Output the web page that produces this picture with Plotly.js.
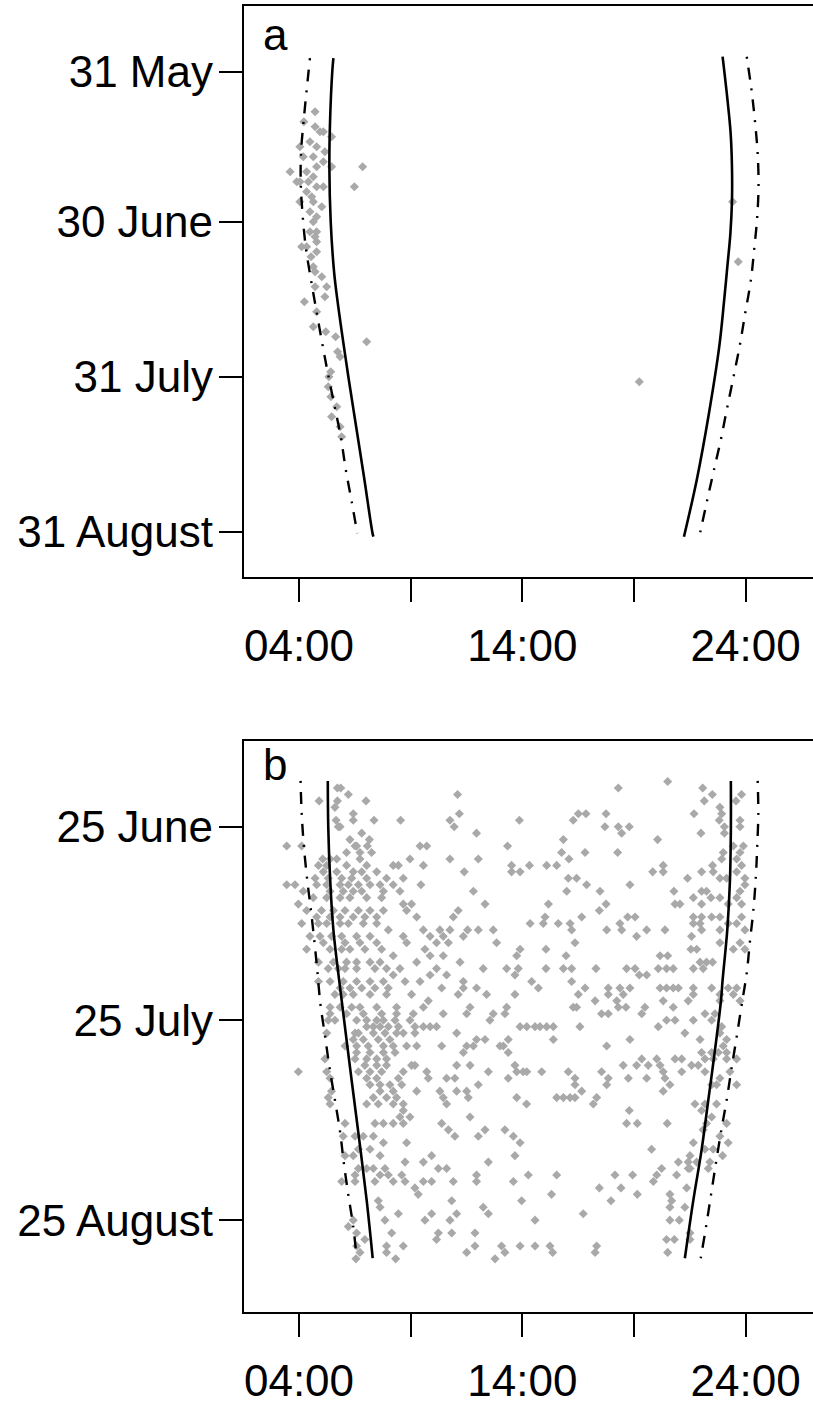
<!DOCTYPE html>
<html><head><meta charset="utf-8">
<script src="https://cdn.plot.ly/plotly-3.0.1.min.js"></script>
<style>html,body{margin:0;padding:0;overflow:hidden;background:#fff;width:813px;height:1407px}#plot{width:835px;height:1407px}</style>
</head><body><div id="plot"></div><script>
// ---------- axis labels ----------
const hourTickVals = [4, 9, 14, 19, 24];
const hourTickText = ['04:00', '', '14:00', '', '24:00'];
const aDateTickVals = [151, 181, 212, 243];
const aDateTickText = ['31 May', '30 June', '31 July', '31 August'];
const bDateTickVals = [176, 206, 237];
const bDateTickText = ['25 June', '25 July', '25 August'];

// ---------- panel a observations (day of year, hour) ----------
const aDay = [159,161,162,163,164,163,166,165,166,167,168,168,169,170,170,170,171,171,172,173,173,173,174,174,174,175,176,177,177,178,179,180,181,183,183,184,185,186,186,187,188,190,191,192,194,194,196,197,199,202,203,204,205,207,208,211,212,214,216,218,220,222,224,177,189,213];
const aHour = [4.72,4.22,4.72,4.94,5.46,5.09,4.04,4.49,4.79,5.16,4.19,4.64,5.09,5.46,4.79,6.85,3.60,4.34,4.64,3.90,4.04,4.42,4.79,5.09,6.48,4.34,4.57,4.04,4.64,5.02,4.49,4.79,4.64,4.49,4.79,4.72,4.79,4.12,4.34,4.79,4.54,4.64,4.72,5.02,4.72,5.24,5.16,4.24,4.79,4.64,5.20,5.64,7.03,5.73,5.84,5.42,5.34,5.31,5.43,5.69,5.46,5.84,5.91,23.42,23.67,19.24];

// ---------- panel a curves ----------
const aSolidLeftDay  = [148.3,151,161,170,181,191,196.7,212,222,232,243,244];
const aSolidLeftHour = [5.54,5.49,5.39,5.36,5.42,5.57,5.72,6.21,6.56,6.91,7.28,7.33];
const aDashLeftDay   = [148.3,160.7,167.3,173.3,180.1,186.3,192.7,199.1,205.3,211.7,218,224.3,230.7,237,243.3];
const aDashLeftHour  = [4.49,4.21,4.09,4.08,4.17,4.31,4.54,4.79,5.04,5.31,5.60,5.88,6.10,6.36,6.61];
const aSolidRightDay  = [148,156.7,163.3,170.1,176.7,183.3,190.1,196.7,206,219.3,232.7,244];
const aSolidRightHour = [22.97,23.19,23.33,23.39,23.39,23.32,23.18,23.04,22.82,22.36,21.81,21.24];
const aDashRightDay  = [148,154.5,160.9,167.3,173.7,180.1,186.3,192.9,199.1,205.5,211.8,218.1,224.4,230.7,236.9,243.1];
const aDashRightHour = [24.05,24.26,24.42,24.54,24.58,24.52,24.39,24.23,23.99,23.75,23.47,23.18,22.90,22.58,22.27,21.97];

// ---------- panel b observations: one day per row, hours observed that day ----------
const bRowDays = [169,170,171,172,173,174,175,176,177,178,179,180,181,182,183,184,185,186,187,188,189,190,191,192,193,194,195,196,197,198,199,200,201,202,203,204,205,206,207,208,209,210,211,212,213,214,215,216,217,218,219,220,221,222,223,224,225,226,227,228,229,230,231,232,233,234,235,236,237,238,239,240,241,242,243];
const bRowHours = [
 [20.51],
 [5.72,5.87,18.30,22.08],
 [6.21,11.10,22.51,23.82],
 [4.90,5.72,7.00,22.15,23.57],
 [5.61,22.85],
 [6.43,11.18,16.51,16.85,17.75,21.69,22.93],
 [5.66,6.43,7.36,8.55,10.76,13.87,16.28,22.82,23.75],
 [5.76,5.84,10.95,17.70,18.30,18.79,23.05,23.75],
 [6.81,11.95,18.45,22.00,23.05],
 [6.28,7.15,15.84,20.06],
 [3.45,4.12,6.51,6.58,7.06,9.42,9.72,13.34,23.45,23.90],
 [6.13,6.73,7.25,15.76,16.81,18.27,23.00,23.75],
 [5.06,5.39,5.69,6.73,8.97,10.76,12.03,16.09,22.93,23.60],
 [4.87,5.24,6.13,7.03,8.22,8.45,9.57,13.52,14.32,15.09,15.54,20.31,22.52,23.82],
 [5.09,5.69,6.43,6.81,7.48,11.40,13.52,13.90,19.84,20.31,22.03,22.55,23.60],
 [4.72,5.31,5.91,6.36,7.03,7.92,8.67,16.06,16.43,21.40,22.85,23.15,23.97],
 [3.45,3.82,4.79,5.24,5.84,6.21,6.66,7.18,7.63,8.22,9.46,16.88,18.82,23.97],
 [4.19,5.39,5.98,6.43,6.81,7.78,8.52,11.81,15.99,17.48,20.79,22.03,22.25,23.75],
 [4.64,5.24,5.84,6.28,7.03,7.70,21.66,22.45,22.85,23.60],
 [3.97,8.67,9.04,12.33,15.17,17.75,20.84,21.06,22.03,23.22,23.82],
 [4.34,5.01,5.54,6.06,6.66,7.18,7.78,8.82,11.13,17.45],
 [4.79,5.39,5.84,6.43,6.95,7.48,9.27,10.91,15.02,16.66,18.72,19.05,21.66,22.03,22.48,22.85,23.82],
 [4.12,4.87,5.24,5.84,6.21,6.88,7.48,14.35,14.94,15.61,16.14,18.37,21.66,21.96,23.22,23.60],
 [8.00,9.57,10.31,10.76,11.55,12.03,12.70,16.21,17.78,18.45,19.57,20.39,22.03,22.85,23.97],
 [4.49,4.94,5.46,5.91,6.58,7.18,8.67,9.87,10.46,11.36,19.12,21.58],
 [5.09,6.06,6.73,7.48,8.82,10.16,10.69,12.85,16.36,22.85,23.75],
 [4.34,5.39,5.91,6.28,6.95,7.70,9.64,13.90,15.06,21.55,21.81,23.45,23.97],
 [8.22,9.87,10.46,13.75,15.96,20.17,20.51],
 [4.87,5.54,6.13,6.58,7.18,7.63,9.27,11.21,21.96,22.25,22.52],
 [5.31,5.76,6.06,6.58,7.40,7.92,8.52,10.16,12.25,13.30,13.82,15.06,15.84,16.21,17.30,18.67,19.05,20.09,20.46,20.76,21.66,22.10],
 [8.22,9.87,10.61,13.67,19.24,19.57],
 [4.87,5.39,5.98,6.58,7.18,7.78,8.75,9.42,11.36,14.42,16.21],
 [5.84,6.28,6.81,7.40,8.00,10.39,11.36,11.95,14.72,16.81,17.85,18.37,18.82,20.17,20.46,20.76,20.99,21.66,22.48,23.22,23.60],
 [5.61,5.98,6.43,7.18,7.92,9.04,11.13,12.40,13.67,16.51,17.85,18.52,21.66,22.85,23.45],
 [9.79,17.26,18.23,20.31,21.43,22.85,23.75],
 [5.39,5.84,6.36,6.73,7.48,8.37,9.57,11.66,13.30,16.28,16.43,18.30,18.64,19.49,20.76],
 [5.39,6.13,6.88,7.70,8.37,9.12,10.46,11.51,12.70,13.22,17.55,17.85,19.35,22.18,22.63],
 [5.31,5.61,6.58,7.03,7.48,7.78,8.30,8.97,12.55,20.46,20.84,21.66,22.48],
 [7.03,7.33,7.63,8.00,8.45,9.19,9.57,9.87,10.16,13.90,14.20,14.57,14.79,15.09,15.39,16.58,20.09,22.93],
 [5.24,6.51,6.66,7.33,7.85,8.37,8.67,9.19,11.06,21.28,22.85],
 [6.43,6.88,7.55,8.07,11.95,12.33,13.37,15.39,18.82,21.96,23.15],
 [6.06,6.58,7.10,7.78,8.22,8.82,9.27,10.39,11.51,11.81,13.00,13.15,17.78,23.00],
 [6.58,7.18,7.78,8.30,11.36,13.37,22.03,22.48,22.78,23.15],
 [5.16,6.51,7.03,7.48,7.92,19.35,20.02,20.84,21.14,22.18,22.55,23.15,23.60],
 [6.95,7.48,7.92,9.04,9.19,11.06,11.66,13.67,18.52,19.12,19.64,20.17,21.58,21.88],
 [3.97,5.24,6.66,7.18,7.70,8.67,9.72,12.48,13.75,14.04,14.20,14.87,16.06,17.55,20.31,21.14,22.18,23.30],
 [5.39,7.03,7.48,8.45,9.79,10.61,10.98,13.37,16.36,17.85,18.75,19.57,20.39,22.85],
 [7.18,7.63,8.07,8.60,12.03,16.36,17.78,20.61,22.48,22.70,23.60],
 [5.46,7.63,8.22,9.27,10.31,11.06,11.51,16.66,20.31],
 [5.31,7.33,7.92,8.37,10.46,11.58,13.75,15.54,15.84,16.14,16.36,17.33],
 [5.39,7.03,7.55,8.22,8.67,10.61,14.19,17.18,21.73,22.18,22.70],
 [8.67,18.79,22.03],
 [8.52,8.97,11.66,22.48],
 [6.06,7.40,7.78,8.22,8.67,10.39,18.67,19.15,20.49,22.25,23.15],
 [10.69,12.33,13.22,22.10],
 [5.98,6.51,6.88,7.33,10.98,12.03,13.60,22.85],
 [7.78,8.82,13.90,21.66,23.22],
 [6.66,7.18,19.79,22.18,22.55],
 [6.06,6.43,7.63,9.94,13.67,21.51,22.97],
 [8.75,9.57,12.48,20.99,21.43,21.81,22.40],
 [6.66,7.03,7.33,7.85,10.24,10.61,20.24,21.43,21.51,22.33],
 [6.51,7.63,8.00,8.60,11.95,14.27,15.54,18.15,18.94,20.02,20.91],
 [5.91,6.51,7.40,8.22,8.75,9.57,9.94,10.91,11.95,13.60,19.87],
 [9.19,17.45,18.42,21.36],
 [9.34,15.31,19.15,20.61],
 [7.55,10.84,13.97,17.97,20.69],
 [7.63,12.25,20.61,21.28],
 [8.45,9.94,11.06,12.48,16.73],
 [6.43,7.85,9.64,10.76,14.57,20.61,21.03],
 [6.21],
 [6.58,8.15,10.24,10.84,11.88,21.51],
 [6.95,10.16,20.46,20.81,21.51],
 [6.58,7.92,8.67,11.88,13.07,13.90,14.57,15.24,17.33],
 [6.73,7.92,11.51,13.22,15.36,17.26,20.51],
 [6.55,8.33,12.78]
];

// ---------- panel b curves ----------
const bSolidLeftDay  = [168.9,176,183.75,192,202.9,213.2,223.5,233.9,242.9];
const bSolidLeftHour = [5.29,5.31,5.39,5.54,5.91,6.28,6.66,7.03,7.30];
const bDashLeftDay   = [168.9,173.9,179.1,184.3,190,197.2,203.5,208.3,213.2,218.4,223.3,228.2,233.1,238,241.4];
const bDashLeftHour  = [4.07,4.12,4.22,4.37,4.57,4.79,4.96,5.16,5.36,5.61,5.84,6.01,6.21,6.43,6.54];
const bSolidRightDay  = [168.9,176.5,184.3,192,199.8,202.9,210.6,218.4,226.1,233.9,242.9];
const bSolidRightHour = [23.34,23.34,23.30,23.18,22.97,22.90,22.63,22.33,22.03,21.66,21.28];
const bDashRightDay  = [168.9,173.9,179.1,183.7,188.9,193.6,198.7,203.5,208.6,213.5,218.4,223.3,228.2,233.1,238,242.9];
const bDashRightHour = [24.54,24.57,24.52,24.46,24.35,24.20,24.05,23.83,23.60,23.37,23.15,22.90,22.67,22.45,22.23,21.99];

// flatten panel b rows
const bDay = [], bHour = [];
bRowDays.forEach((d, i) => bRowHours[i].forEach(h => { bDay.push(d); bHour.push(h); }));

const FONT = {family: 'Liberation Sans, Arial, Helvetica, sans-serif', size: 44, color: '#000'};
const marker = {symbol: 'diamond', size: 7, color: '#a9a9a9', line: {width: 0}};
const solid = {color: '#000', width: 2.6, shape: 'spline'};
const dashdot = {color: '#000', width: 2.4, shape: 'spline', dash: '2px,9px,12px,9px'};

function pts(x, y, xa, ya) { return {type: 'scatter', mode: 'markers', x, y, xaxis: xa, yaxis: ya, marker, hoverinfo: 'none'}; }
function ln(x, y, xa, ya, line) { return {type: 'scatter', mode: 'lines', x, y, xaxis: xa, yaxis: ya, line, hoverinfo: 'none'}; }

const traces = [
  pts(aHour, aDay, 'x', 'y'),
  ln(aSolidLeftHour, aSolidLeftDay, 'x', 'y', solid),
  ln(aDashLeftHour, aDashLeftDay, 'x', 'y', dashdot),
  ln(aSolidRightHour, aSolidRightDay, 'x', 'y', solid),
  ln(aDashRightHour, aDashRightDay, 'x', 'y', dashdot),
  pts(bHour, bDay, 'x2', 'y2'),
  ln(bSolidLeftHour, bSolidLeftDay, 'x2', 'y2', solid),
  ln(bDashLeftHour, bDashLeftDay, 'x2', 'y2', dashdot),
  ln(bSolidRightHour, bSolidRightDay, 'x2', 'y2', solid),
  ln(bDashRightHour, bDashRightDay, 'x2', 'y2', dashdot)
];

const H = 1407;
const common = {ticks: 'outside', ticklen: 23, tickwidth: 2, tickcolor: '#000', showline: true, linewidth: 2.2,
  linecolor: '#000', mirror: true, showgrid: false, zeroline: false, tickfont: FONT};
const xa = Object.assign({}, common, {range: [1.537, 27.78], tickmode: 'array', tickvals: hourTickVals, ticktext: hourTickText, ticklabelstandoff: 6});

const layout = {
  width: 835, height: H,
  margin: {l: 244, r: 5, t: 0, b: 0},
  paper_bgcolor: '#fff', plot_bgcolor: '#fff',
  showlegend: false,
  font: FONT,
  xaxis: Object.assign({}, xa, {anchor: 'y'}),
  xaxis2: Object.assign({}, xa, {anchor: 'y2'}),
  yaxis: Object.assign({}, common, {anchor: 'x', domain: [1 - 576.7 / H, 1 - 6 / H], range: [252, 137.86],
    tickmode: 'array', tickvals: aDateTickVals, ticktext: aDateTickText, ticklabelstandoff: -3}),
  yaxis2: Object.assign({}, common, {anchor: 'x2', domain: [1 - 1311.7 / H, 1 - 740.7 / H], range: [251.19, 162.67],
    tickmode: 'array', tickvals: bDateTickVals, ticktext: bDateTickText, ticklabelstandoff: -3}),
  annotations: [
    {text: 'a', xref: 'paper', yref: 'paper', x: 17 / 586, y: 1 - 8 / H, xanchor: 'left', yanchor: 'top', showarrow: false, font: FONT},
    {text: 'b', xref: 'paper', yref: 'paper', x: 17 / 586, y: 1 - 738 / H, xanchor: 'left', yanchor: 'top', showarrow: false, font: FONT}
  ]
};

Plotly.newPlot('plot', traces, layout, {staticPlot: true, displayModeBar: false});
</script></body></html>
